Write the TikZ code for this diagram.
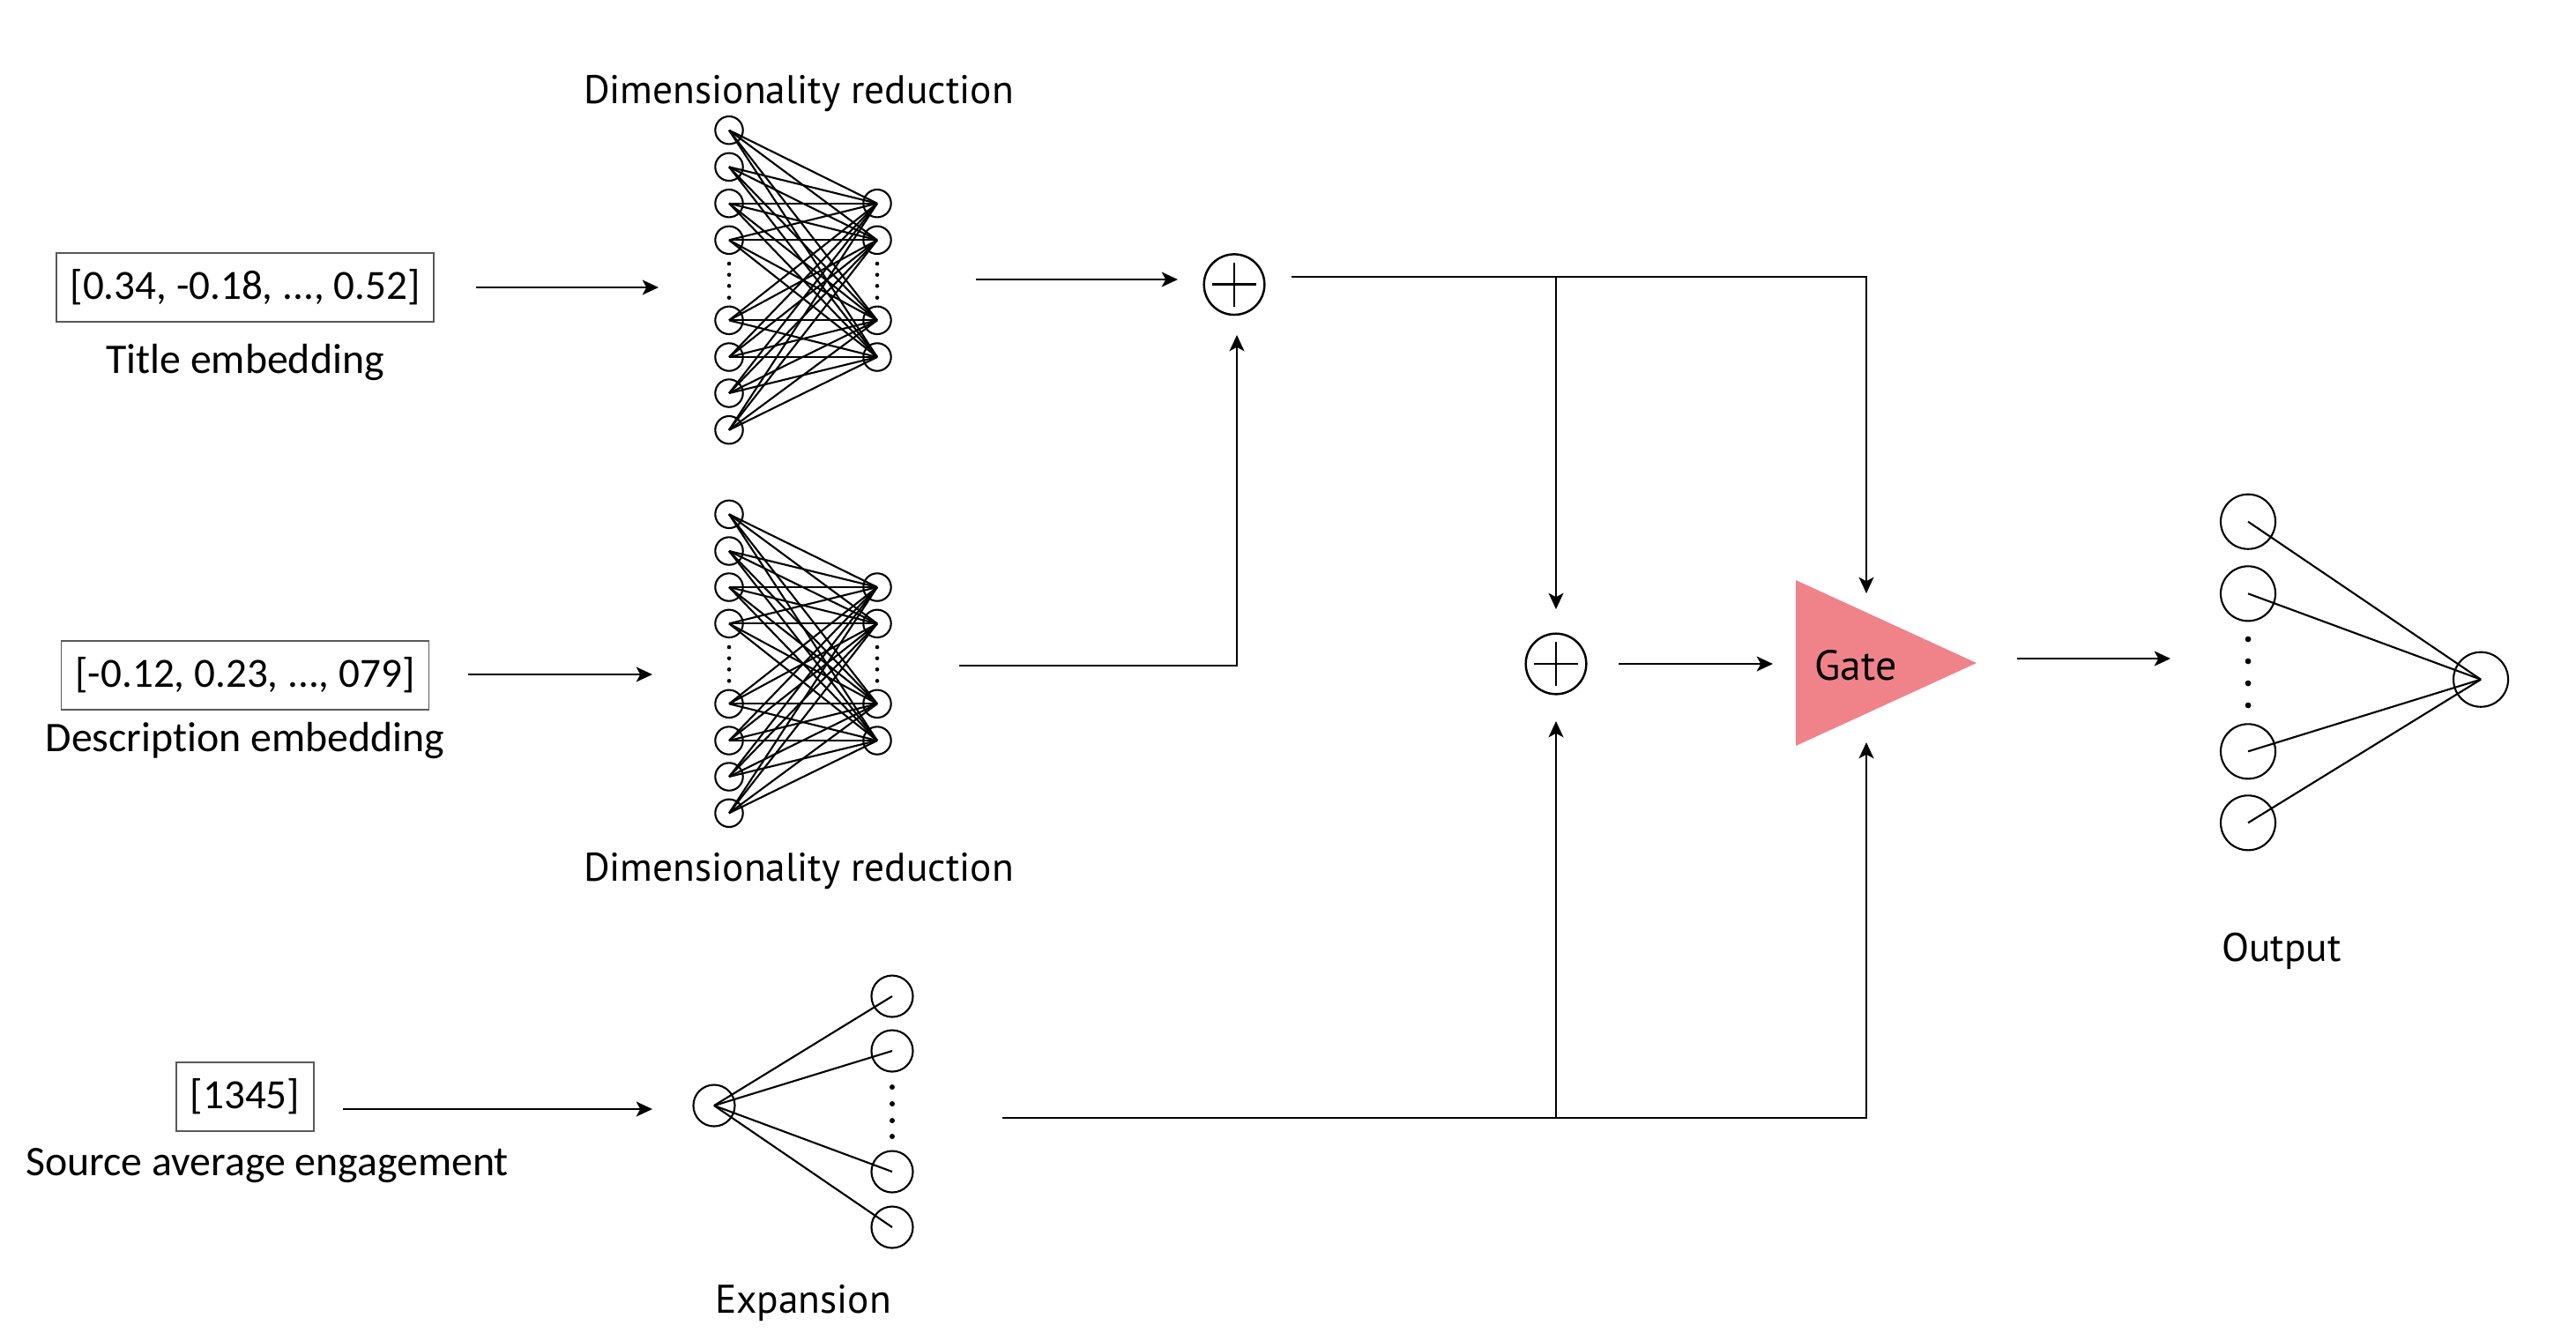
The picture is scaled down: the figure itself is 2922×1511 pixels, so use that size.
\documentclass[tikz,border=0pt]{standalone}
\usepackage{fontspec}
\setmainfont{Carlito}[Ligatures=NoCommon]
\newfontfamily\myr{PT Sans}
\usetikzlibrary{arrows.meta,calc}
\definecolor{gatecol}{HTML}{F0838A}
\begin{document}
\begin{tikzpicture}[x=0.01cm,y=-0.01cm,
  neuron/.style={draw,circle,minimum size=0.314cm,inner sep=0pt,line width=0.6pt},
  expneuron/.style={draw,circle,minimum size=0.47cm,inner sep=0pt,line width=0.6pt},
  outneuron/.style={draw,circle,minimum size=0.62cm,inner sep=0pt,line width=0.6pt},
  plusnode/.style={draw,circle,minimum size=0.686cm,inner sep=0pt,line width=0.7pt,
    path picture={\draw[line width=0.7pt] ([xshift=-0.25cm]path picture bounding box.center) -- ([xshift=0.25cm]path picture bounding box.center);
                  \draw[line width=0.7pt] ([yshift=-0.25cm]path picture bounding box.center) -- ([yshift=0.25cm]path picture bounding box.center);}},
  link/.style={line width=0.6pt},
  arr/.style={line width=0.65pt,-{Stealth[length=5.2pt,width=4.8pt,inset=1.3pt]}},
  vecbox/.style={draw=black!65,line width=0.45pt,font=\fontsize{13.4}{15}\selectfont,minimum height=0.78cm,inner xsep=4.5pt},
  caplab/.style={font=\fontsize{13.6}{15}\selectfont},
  mlab/.style={font=\myr\fontsize{12.9}{15}\selectfont},
  smalldot/.style={fill=black}]
\useasboundingbox (0,0) rectangle (2922,1511);

% ---------- input boxes ----------
\node[vecbox] (tbox) at (278,326) {[0.34, -0.18, ..., 0.52]};
\node[caplab] (tlab) at (278,411) {Title embedding};
\node[vecbox] (dbox) at (278,766) {[-0.12, 0.23, ..., 079]};
\node[caplab] (dlab) at (278,840) {Description embedding};
\node[vecbox] (sbox) at (278,1244) {[1345]};
\node[caplab] (slab) at (303,1322) {Source average engagement};

% ---------- top dimensionality reduction ----------
\node[mlab] (dr1) at (906,106) {Dimensionality reduction};
\foreach \y [count=\i] in {147.7,189.3,230.7,272.3,363.3,405,446,487.7}
  \node[neuron] (tL\i) at (827,\y) {};
\foreach \y [count=\i] in {230.7,272.3,363.3,405}
  \node[neuron] (tR\i) at (995,\y) {};
\foreach \i in {1,...,8} \foreach \j in {1,...,4}
  \draw[link] (tL\i.center) -- (tR\j.center);
\foreach \y in {299,311.7,324.3,337.7} {
  \fill (827,\y) circle[radius=0.65pt];
  \fill (995,\y) circle[radius=0.65pt];
}

% ---------- bottom dimensionality reduction ----------
\foreach \y [count=\i] in {583.3,625,666,707.3,798.3,840,881,922.3}
  \node[neuron] (bL\i) at (827,\y) {};
\foreach \y [count=\i] in {666,707.3,798.3,840}
  \node[neuron] (bR\i) at (995,\y) {};
\foreach \i in {1,...,8} \foreach \j in {1,...,4}
  \draw[link] (bL\i.center) -- (bR\j.center);
\foreach \y in {734,746.7,759.3,772.3} {
  \fill (827,\y) circle[radius=0.65pt];
  \fill (995,\y) circle[radius=0.65pt];
}
\node[mlab] (dr2) at (906,988) {Dimensionality reduction};

% ---------- expansion ----------
\node[expneuron] (eL) at (810,1254) {};
\foreach \y [count=\i] in {1130,1192,1329,1392}
  \node[expneuron] (eR\i) at (1012,\y) {};
\foreach \j in {1,...,4}
  \draw[link] (eL.center) -- (eR\j.center);
\foreach \y in {1233,1252,1271,1289}
  \fill (1012,\y) circle[radius=0.85pt];
\node[mlab] (exlab) at (911,1478) {Expansion};

% ---------- plus nodes ----------
\node[plusnode] (p1) at (1400,322.7) {};
\node[plusnode] (p2) at (1765,753) {};

% ---------- gate ----------
\fill[gatecol] (2037,658) -- (2242,752) -- (2037,846) -- cycle;
\node[mlab,font=\myr\fontsize{13.6}{15}\selectfont] (gate) at (2105,755) {Gate};

% ---------- output ----------
\foreach \y [count=\i] in {591.7,673.3,852.3,933.3}
  \node[outneuron] (oL\i) at (2550,\y) {};
\node[outneuron] (oR) at (2814,770.7) {};
\foreach \i in {1,...,4}
  \draw[link] (oL\i.center) -- (oR.center);
\foreach \y in {725,750,775,800}
  \fill (2550,\y) circle[radius=0.95pt];
\node[mlab] (outlab) at (2588,1079) {Output};

% ---------- connector coordinates ----------
\coordinate (a1s) at (540,326);  \coordinate (a1e) at (747,326);
\coordinate (a2s) at (531,765);  \coordinate (a2e) at (740,765);
\coordinate (a3s) at (389,1258); \coordinate (a3e) at (740,1258);
\coordinate (a4s) at (1107,317); \coordinate (a4e) at (1336,317);
\coordinate (a5s) at (1088,755); \coordinate (a5e) at (1403,380);
\coordinate (a6s) at (1465,314); \coordinate (a6e) at (2117,673);
\coordinate (a6b) at (1765,314); \coordinate (a6be) at (1765,691);
\coordinate (a7s) at (1836,753); \coordinate (a7e) at (2011,753);
\coordinate (a8s) at (1137,1268); \coordinate (a8e) at (2117,842);
\coordinate (a8b) at (1765,1268); \coordinate (a8be) at (1765,818);
\coordinate (a9s) at (2288,747); \coordinate (a9e) at (2462,747);

% ---------- connectors ----------
\draw[arr] (a1s) -- (a1e);
\draw[arr] (a2s) -- (a2e);
\draw[arr] (a3s) -- (a3e);
\draw[arr] (a4s) -- (a4e);
\draw[arr] (a5s) -| (a5e);
\draw[arr] (a6s) -| (a6e);
\draw[arr] (a6b) -- (a6be);
\draw[arr] (a7s) -- (a7e);
\draw[arr] (a8s) -| (a8e);
\draw[arr] (a8b) -- (a8be);
\draw[arr] (a9s) -- (a9e);
\end{tikzpicture}
\end{document}
